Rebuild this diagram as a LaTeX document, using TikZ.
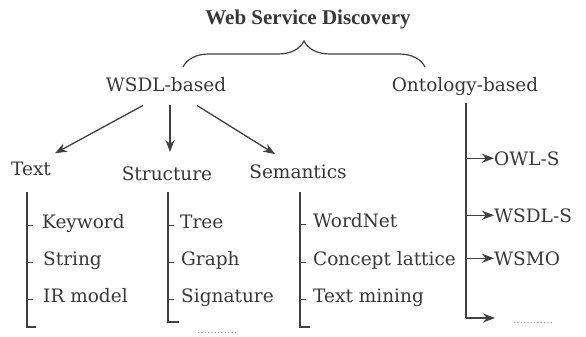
\documentclass[tikz,border=0pt]{standalone}
\usepackage{fontspec}
\newfontfamily\diagfont{DejaVu Serif}
\newfontfamily\titlefont{Liberation Serif}
\usetikzlibrary{arrows.meta,decorations.pathreplacing}
\tikzset{
  lbl/.style={inner sep=0pt,text=black!78,font=\diagfont\fontsize{18.5}{22}\selectfont},
  item/.style={lbl,anchor=base west},
  dots/.style={inner sep=0pt,anchor=base west,text=black!45,font=\diagfont\fontsize{10}{12}\selectfont},
  arr/.style={-{Stealth[length=12pt,width=9pt]},black!75,line width=1.3pt},
  bar/.style={black!75,line width=1.2pt},
}
\begin{document}
\begin{tikzpicture}[x=1pt,y=-1pt]
\useasboundingbox (0,0) rectangle (586,337);
\node[lbl,anchor=base,font=\titlefont\bfseries\fontsize{21}{26}\selectfont] (wsd) at (308,25) {Web Service Discovery};
\node[lbl,anchor=base] (wsdl) at (166,92) {WSDL-based};
\node[lbl,anchor=base] (onto) at (465,92) {Ontology-based};
\coordinate (bl) at (183,67);
\coordinate (br) at (425,67);
\draw[bar,decorate,decoration={brace,amplitude=26pt}] (bl) -- (br);

\node[lbl,anchor=base] (txt) at (31,175) {Text};
\node[lbl,anchor=base] (str) at (167,180) {Structure};
\node[lbl,anchor=base] (sem) at (298,178) {Semantics};
\draw[arr] ([shift={(-23,13)}]wsdl.south) -- ([shift={(24,-8)}]txt.north);
\draw[arr] ([shift={(4,13)}]wsdl.south) -- ([shift={(3,-14)}]str.north);
\draw[arr] ([shift={(31,13)}]wsdl.south) -- ([shift={(-23,-10)}]sem.north);

\coordinate (t0) at (27,192);
\coordinate (t1) at (27,327);
\node[item] (kw) at (42,228) {Keyword};
\node[item] (sg) at (43,265) {String};
\node[item] (ir) at (43,302) {IR model};
\draw[bar] (t0) -- (t1) -- ++(9,0);
\foreach \n in {kw,sg,ir} \draw[bar] (\n.mid west -| t0) -- ++(6,0);

\coordinate (s0) at (168,192);
\coordinate (s1) at (168,322);
\node[item] (tree) at (180,228) {Tree};
\node[item] (graph) at (181,265) {Graph};
\node[item] (sig) at (181,302) {Signature};
\node[dots] (sdots) at (197,333) {\ldots\ldots\ldots\ldots};
\draw[bar] (s0) -- (s1) -- ++(11,0);
\foreach \n in {tree,graph,sig} \draw[bar] (\n.mid west -| s0) -- ++(6,0);

\coordinate (m0) at (300,192);
\coordinate (m1) at (300,327);
\node[item] (wn) at (313,227) {WordNet};
\node[item] (cl) at (313,265) {Concept lattice};
\node[item] (tm) at (313,302) {Text mining};
\draw[bar] (m0) -- (m1) -- ++(10,0);
\foreach \n in {wn,cl,tm} \draw[bar] (\n.mid west -| m0) -- ++(6,0);

\coordinate (o0) at (466,103);
\coordinate (o1) at (466,318);
\node[item] (owl) at (494,165) {OWL-S};
\node[item] (wsdls) at (494,222) {WSDL-S};
\node[item] (wsmo) at (494,265) {WSMO};
\node[dots] (odots) at (513,323) {\ldots\ldots\ldots\ldots};
\draw[bar] (o0) -- (o1);
\foreach \n in {owl,wsdls,wsmo} \draw[arr] (\n.west -| o0) -- (\n.west);
\draw[arr,shorten >=18pt] (o1) -- (o1 -| odots.west);
\end{tikzpicture}
\end{document}
